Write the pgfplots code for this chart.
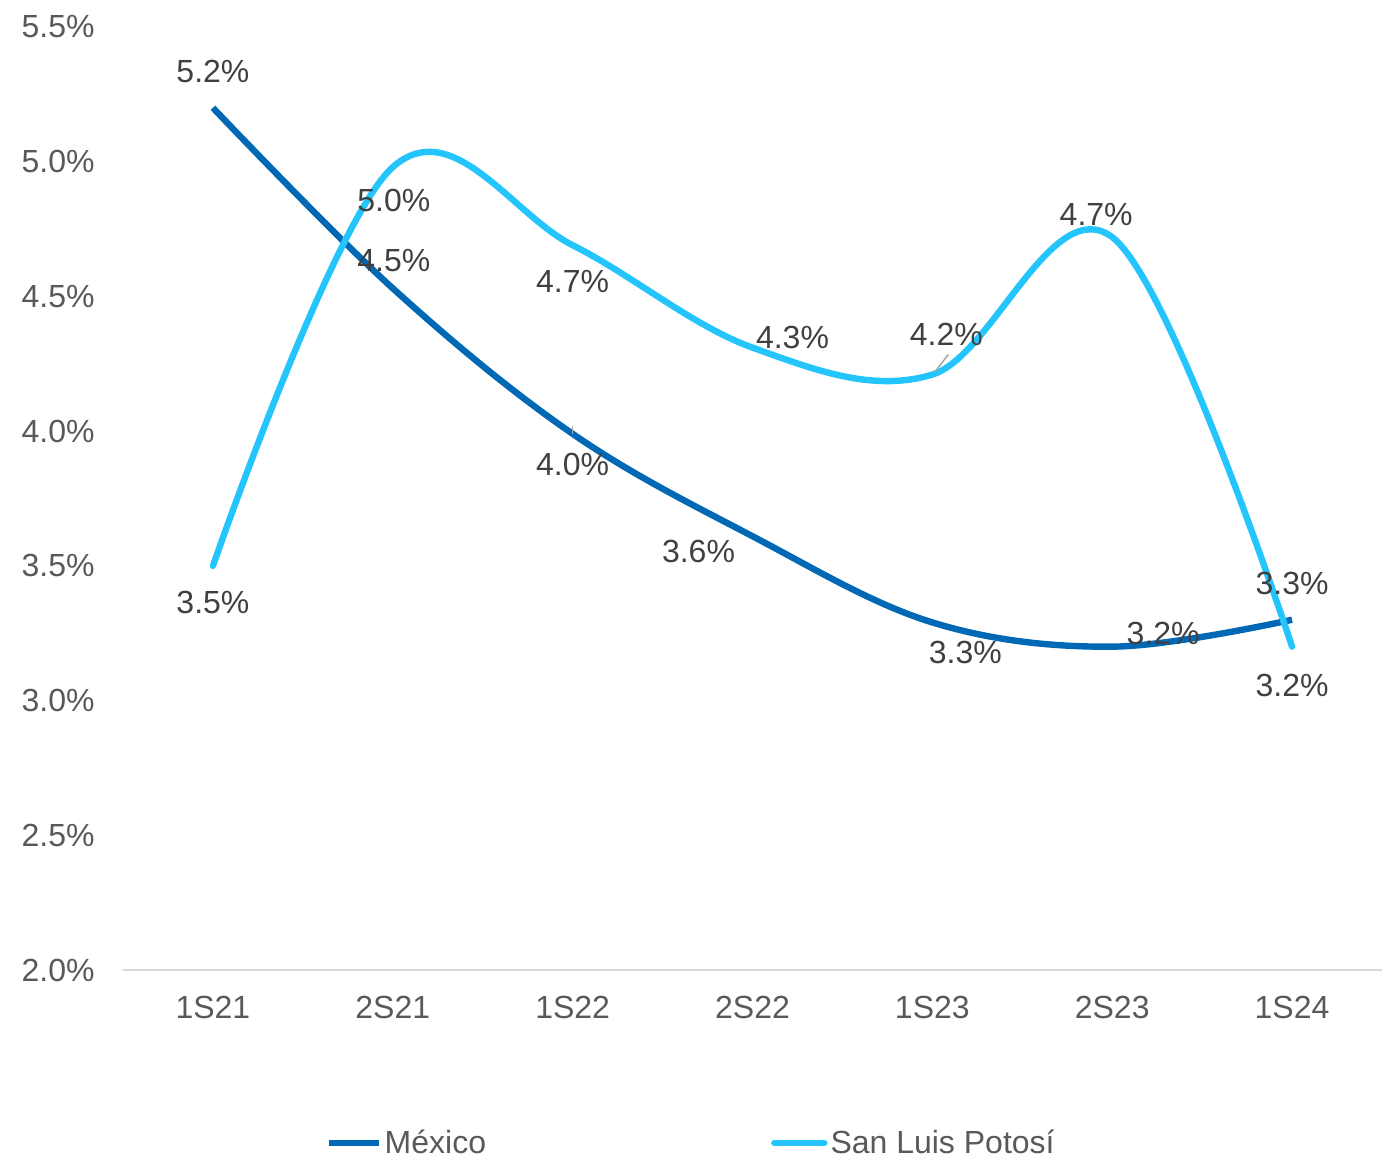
\documentclass[border=0pt]{standalone}
\usepackage{fontspec}
\setmainfont{Liberation Sans}
\usepackage{pgfplots}
\usepackage{pgfplotstable}
\pgfplotsset{compat=1.18}

\definecolor{mexblue}{RGB}{0,104,180}
\definecolor{slpblue}{RGB}{36,196,252}
\definecolor{labelgray}{RGB}{64,64,64}
\definecolor{tickgray}{RGB}{89,89,89}
\definecolor{axisgray}{RGB}{217,217,217}
\definecolor{leadergray}{RGB}{166,166,166}

% x = semester index, y = rate (%), dx/dy = label offset (pt)
\pgfplotstableread{
x y    dx    dy
0 5.20 0     18
1 4.53 0.5   14
2 3.99 0    -15.5
3 3.61 -27  -7.5
4 3.29 16.5 -15
5 3.20 25.5  6.5
6 3.30 0     18
}\mexico

\pgfplotstableread{
x y    dx   dy
0 3.50 0   -18.5
1 4.98 0.5 -16.5
2 4.69 0   -18
3 4.31 20   5
4 4.21 7    20
5 4.72 -8   11.5
6 3.20 0   -19.5
}\slp

\newcommand{\chartfont}{\fontsize{16}{19}\selectfont}

\begin{document}
\begin{tikzpicture}
\begin{axis}[
  scale only axis,
  width=629.5pt, height=471.5pt,
  xmin=-0.5, xmax=6.5, ymin=2, ymax=5.5,
  clip=false,
  axis x line*=bottom, axis y line*=left,
  x axis line style={draw=axisgray, line width=1pt},
  y axis line style={draw=none},
  major tick length=0pt,
  tick style={draw=none},
  xtick={0,1,2,3,4,5,6},
  xticklabels={1S21,2S21,1S22,2S22,1S23,2S23,1S24},
  ytick={2,2.5,3,3.5,4,4.5,5,5.5},
  yticklabel={\pgfmathprintnumber[fixed,fixed zerofill,precision=1]{\tick}\%},
  /pgf/number format/assume math mode=true,
  ticklabel style={font=\chartfont, text=tickgray, inner sep=0pt},
  yticklabel style={anchor=east, xshift=-14pt},
  xticklabel style={anchor=north, yshift=-13pt},
  nodes near coords={\pgfmathprintnumber[fixed,fixed zerofill,precision=1]{\pgfplotspointmeta}\%},
  visualization depends on={\thisrow{dx} \as \labdx},
  visualization depends on={\thisrow{dy} \as \labdy},
  nodes near coords style={font=\chartfont, text=labelgray, anchor=center,
    inner sep=0pt, xshift=\labdx pt, yshift=\labdy pt},
  legend columns=2,
  legend style={at={(axis description cs:0.5,0)}, xshift=-30.5pt, yshift=-86.5pt, anchor=center,
    draw=none, fill=none, font=\chartfont, text=tickgray,
    nodes={inner sep=1.5pt},
    /tikz/every even column/.append style={column sep=141pt}},
  legend image code/.code={\draw[#1] (0pt,0pt) -- (25pt,0pt);},
]
\addplot[mexblue, line width=3.2pt, line cap=butt, smooth, tension=0.6]
  table[x=x, y=y] {\mexico};
\addlegendentry{México}
\addplot[slpblue, line width=3.2pt, line cap=round, smooth, tension=0.6]
  table[x=x, y=y] {\slp};
\addlegendentry{San Luis Potosí}

% leader lines of the displaced labels
\draw[leadergray, line width=0.75pt] (axis cs:2,3.99) ++(0pt,0pt) -- ++(0pt,4pt);
\draw[leadergray, line width=0.75pt] (axis cs:4,4.21) ++(1pt,1pt) -- ++(7pt,9pt);
\end{axis}
\pgfresetboundingbox
\useasboundingbox (-61.5pt,-94.5pt) rectangle (629.5pt,485pt);
\end{tikzpicture}
\end{document}
